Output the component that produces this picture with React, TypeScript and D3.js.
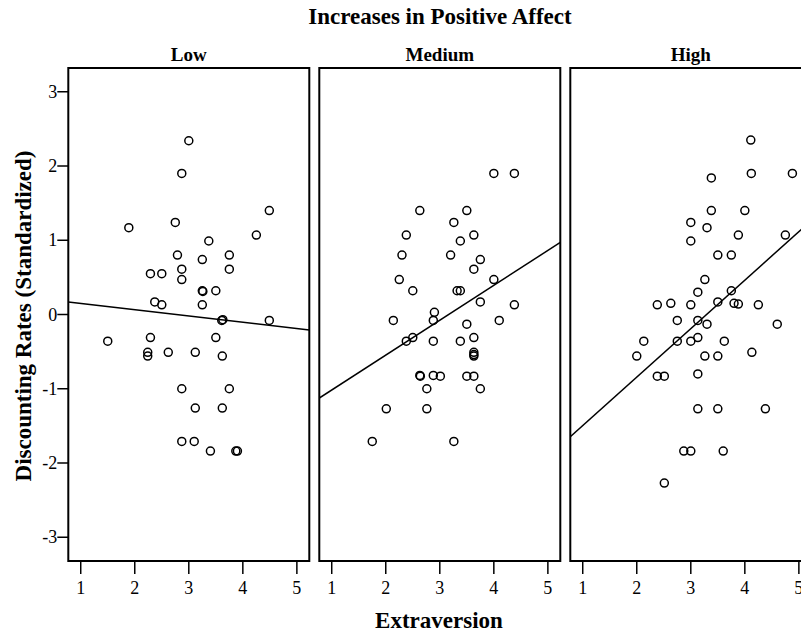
import React from "react";
import * as d3 from "d3";

const title = "Increases in Positive Affect";
const xTitle = "Extraversion";
const yTitle = "Discounting Rates (Standardized)";
const panelNames = ["Low", "Medium", "High"];
const xTicks = [1, 2, 3, 4, 5];
const yTicks = [-3, -2, -1, 0, 1, 2, 3];

const lowX = [3.0, 2.87, 4.49, 1.89, 2.75, 4.25, 3.37, 2.79, 3.75, 3.25, 2.29, 2.5, 2.87, 3.75, 2.87, 3.25, 3.26, 3.5, 2.37, 2.5, 3.25, 3.61, 3.63, 4.49, 1.5, 2.29, 3.5, 2.24, 2.24, 2.62, 3.12, 3.62, 2.87, 3.75, 3.12, 3.62, 2.87, 3.1, 3.4, 3.87, 3.9];
const lowY = [2.34, 1.9, 1.4, 1.17, 1.24, 1.07, 0.99, 0.8, 0.8, 0.74, 0.55, 0.55, 0.61, 0.61, 0.47, 0.32, 0.31, 0.32, 0.17, 0.13, 0.13, -0.08, -0.07, -0.08, -0.36, -0.31, -0.31, -0.51, -0.56, -0.51, -0.51, -0.56, -1.0, -1.0, -1.26, -1.26, -1.71, -1.71, -1.84, -1.84, -1.84];

const medX = [4.0, 4.38, 2.63, 3.5, 3.26, 2.38, 3.63, 3.38, 2.3, 3.2, 3.75, 3.63, 2.25, 4.0, 2.5, 3.32, 3.38, 3.75, 4.38, 2.9, 2.14, 2.88, 4.1, 3.5, 2.38, 2.5, 2.88, 3.38, 3.63, 3.63, 3.63, 3.63, 2.63, 2.64, 2.88, 3.01, 3.5, 3.63, 2.76, 3.75, 2.01, 2.76, 1.75, 3.26];
const medY = [1.9, 1.9, 1.4, 1.4, 1.24, 1.07, 1.07, 0.99, 0.8, 0.8, 0.74, 0.61, 0.47, 0.47, 0.32, 0.32, 0.32, 0.17, 0.13, 0.03, -0.08, -0.08, -0.08, -0.13, -0.36, -0.31, -0.36, -0.36, -0.31, -0.51, -0.54, -0.56, -0.82, -0.83, -0.82, -0.83, -0.83, -0.83, -1.0, -1.0, -1.27, -1.27, -1.71, -1.71];

const highX = [4.11, 3.38, 4.12, 4.88, 3.38, 4.0, 3.0, 3.3, 3.88, 4.75, 3.0, 3.5, 3.75, 3.26, 3.13, 3.75, 2.38, 2.63, 3.0, 3.5, 3.8, 3.88, 4.25, 2.75, 3.13, 3.3, 4.6, 2.13, 2.75, 3.0, 3.13, 3.62, 2.0, 3.26, 3.5, 4.13, 2.38, 2.51, 3.13, 3.13, 3.5, 4.38, 2.87, 3.0, 3.6, 2.51];
const highY = [2.35, 1.84, 1.9, 1.9, 1.4, 1.4, 1.24, 1.17, 1.07, 1.07, 0.99, 0.8, 0.8, 0.47, 0.3, 0.32, 0.13, 0.15, 0.13, 0.17, 0.15, 0.14, 0.13, -0.08, -0.08, -0.13, -0.13, -0.36, -0.36, -0.36, -0.31, -0.36, -0.56, -0.56, -0.56, -0.51, -0.83, -0.83, -0.8, -1.27, -1.27, -1.27, -1.84, -1.84, -1.84, -2.27];

// fit lines: intercept, slope
const fitIntercepts = [0.235, -1.487, -2.149];
const fitSlopes = [-0.085, 0.47, 0.653];

const xDomain: [number, number] = [0.77, 5.23];
const yDomain: [number, number] = [-3.32, 3.32];

const W = 801;
const H = 634;
const panelLeft0 = 68.3;
const panelW = 241;
const panelGap = 10;
const panelTop = 68;
const panelBottom = 561;
const font = "'Liberation Serif', 'Times New Roman', serif";

export default function App() {
  const panels = [
    { name: panelNames[0], xs: lowX, ys: lowY, b0: fitIntercepts[0], b1: fitSlopes[0] },
    { name: panelNames[1], xs: medX, ys: medY, b0: fitIntercepts[1], b1: fitSlopes[1] },
    { name: panelNames[2], xs: highX, ys: highY, b0: fitIntercepts[2], b1: fitSlopes[2] },
  ];
  const y = d3.scaleLinear().domain(yDomain).range([panelBottom, panelTop]);
  const line = d3.line<[number, number]>();

  return (
    <svg width={W} height={H} style={{ position: "absolute", left: 0, top: 0, background: "#fff" }} fontFamily={font}>
      <rect x={0} y={0} width={W} height={H} fill="#fff" />
      <text x={440} y={24} textAnchor="middle" fontWeight="bold" fontSize={23}>{title}</text>
      <text x={439} y={628} textAnchor="middle" fontWeight="bold" fontSize={23}>{xTitle}</text>
      <text transform={`translate(31,316) rotate(-90)`} textAnchor="middle" fontWeight="bold" fontSize={23}>{yTitle}</text>
      {/* y axis ticks on first panel */}
      {yTicks.map((t) => (
        <g key={t}>
          <line x1={panelLeft0 - 11} x2={panelLeft0} y1={y(t)} y2={y(t)} stroke="#000" strokeWidth={1.5} />
          <text x={panelLeft0 - 11} y={y(t) + 6} textAnchor="end" fontSize={18}>{t}</text>
        </g>
      ))}
      {panels.map((p, i) => {
        const left = panelLeft0 + i * (panelW + panelGap);
        const x = d3.scaleLinear().domain(xDomain).range([left, left + panelW]);
        const fit = line([
          [x(xDomain[0]), y(p.b0 + p.b1 * xDomain[0])],
          [x(xDomain[1]), y(p.b0 + p.b1 * xDomain[1])],
        ]);
        return (
          <g key={p.name}>
            <text x={left + panelW / 2} y={61} textAnchor="middle" fontWeight="bold" fontSize={19}>{p.name}</text>
            <clipPath id={`clip${i}`}>
              <rect x={left} y={panelTop} width={panelW} height={panelBottom - panelTop} />
            </clipPath>
            <g clipPath={`url(#clip${i})`}>
              <path d={fit || ""} stroke="#000" strokeWidth={1.5} fill="none" />
              {p.xs.map((xv, j) => (
                <circle key={j} cx={x(xv)} cy={y(p.ys[j])} r={4} fill="none" stroke="#000" strokeWidth={1.5} />
              ))}
            </g>
            <rect x={left} y={panelTop} width={panelW} height={panelBottom - panelTop} fill="none" stroke="#000" strokeWidth={2} />
            {xTicks.map((t) => (
              <g key={t}>
                <line x1={x(t)} x2={x(t)} y1={panelBottom} y2={panelBottom + 13} stroke="#000" strokeWidth={1.5} />
                <text x={x(t)} y={594} textAnchor="middle" fontSize={18}>{t}</text>
              </g>
            ))}
          </g>
        );
      })}
    </svg>
  );
}
